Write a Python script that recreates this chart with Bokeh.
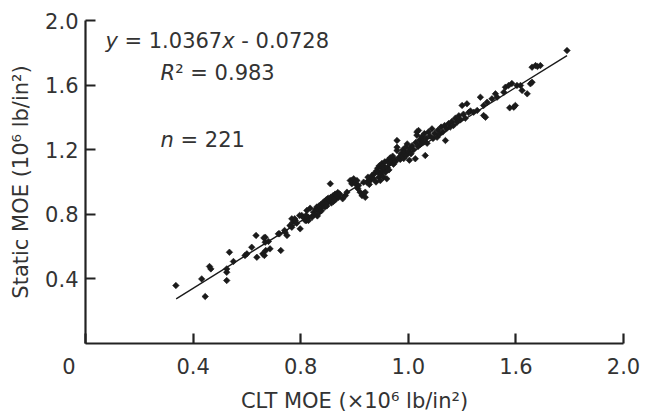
import math
from bokeh.plotting import figure
from bokeh.models import Label, FixedTicker, Range1d
from bokeh.embed import file_html
from bokeh.resources import INLINE

# ---- data ----
clt_moe = [
    0.336, 0.432, 0.445, 0.461, 0.466, 0.525, 0.525, 0.525, 0.535, 0.550,
    0.593, 0.600, 0.618, 0.634, 0.637, 0.659, 0.665, 0.668, 0.668, 0.670,
    0.680, 0.686, 0.663,
    0.717, 0.721, 0.726, 0.740, 0.742, 0.749, 0.760, 0.767, 0.767, 0.771,
    0.778, 0.780, 0.785, 0.796, 0.798, 0.804, 0.810, 0.817, 0.820, 0.822,
    0.823, 0.828, 0.829, 0.835, 0.842, 0.848,
    0.852, 0.855, 0.860, 0.862, 0.865, 0.868, 0.870, 0.875, 0.877, 0.880,
    0.882, 0.886, 0.888, 0.890, 0.892, 0.895, 0.897, 0.900, 0.902, 0.907,
    0.910, 0.912, 0.914, 0.917, 0.920, 0.922, 0.925, 0.928, 0.930, 0.934,
    0.938, 0.941, 0.945, 0.956, 0.966, 0.972,
    0.984, 0.990, 0.990, 0.997, 1.003, 1.009, 1.012, 1.015, 1.021, 1.028,
    1.034, 1.034, 1.040, 1.040, 1.046, 1.050, 1.055, 1.059, 1.065, 1.071,
    1.075, 1.080, 1.083, 1.090, 1.096,
    1.086, 1.088, 1.092, 1.098, 1.100, 1.102, 1.104, 1.107, 1.108, 1.110,
    1.113, 1.115, 1.120, 1.122, 1.125, 1.128, 1.130, 1.133, 1.139, 1.142,
    1.145, 1.148, 1.152, 1.158, 1.158, 1.158, 1.164,
    1.170, 1.173, 1.177, 1.180, 1.183, 1.186, 1.190, 1.193, 1.196, 1.200,
    1.204, 1.207, 1.210, 1.214, 1.220, 1.226, 1.228, 1.232, 1.232, 1.236,
    1.238, 1.242, 1.246, 1.250, 1.255, 1.260, 1.263, 1.266, 1.270, 1.275,
    1.280, 1.288,
    1.292, 1.298, 1.307, 1.310, 1.316, 1.322, 1.328, 1.335, 1.338, 1.342,
    1.350, 1.356, 1.362, 1.368, 1.375, 1.381, 1.388, 1.394, 1.400, 1.405,
    1.412, 1.418, 1.424, 1.431, 1.443, 1.456,
    1.468, 1.480, 1.480, 1.487, 1.493, 1.511, 1.524, 1.530, 1.555, 1.561,
    1.573, 1.577, 1.585, 1.592, 1.598, 1.604, 1.617, 1.623, 1.642, 1.654,
    1.660, 1.660, 1.673, 1.680, 1.691, 1.790,
]
static_moe = [
    0.359, 0.400, 0.291, 0.477, 0.462, 0.462, 0.441, 0.390, 0.565, 0.508,
    0.545, 0.555, 0.596, 0.669, 0.534, 0.555, 0.545, 0.627, 0.658, 0.576,
    0.632, 0.586, 0.654,
    0.679, 0.679, 0.576, 0.700, 0.689, 0.669, 0.730, 0.772, 0.720, 0.751,
    0.772, 0.762, 0.745, 0.793, 0.710, 0.793, 0.780, 0.762, 0.793, 0.762,
    0.824, 0.782, 0.762, 0.838, 0.782, 0.813,
    0.800, 0.830, 0.845, 0.790, 0.828, 0.852, 0.812, 0.860, 0.822, 0.848,
    0.870, 0.855, 0.880, 0.845, 0.866, 0.890, 0.852, 0.875, 0.900, 0.885,
    0.989, 0.905, 0.870, 0.893, 0.915, 0.880, 0.900, 0.925, 0.892, 0.912,
    0.935, 0.905, 0.925, 0.896, 0.916, 0.937,
    1.009, 0.989, 1.009, 1.020, 0.989, 1.009, 0.960, 0.978, 0.937, 0.916,
    0.999, 0.927, 0.937, 0.905, 0.999, 1.030, 0.985, 1.009, 1.040, 1.020,
    1.055, 1.000, 1.070, 1.030, 1.009,
    1.085, 1.060, 1.100, 1.050, 1.090, 1.115, 1.070, 1.100, 1.030, 1.085,
    1.125, 1.060, 1.020, 1.090, 1.135, 1.075, 1.115, 1.150, 1.130, 1.160,
    1.110, 1.140, 1.125, 1.195, 1.215, 1.257, 1.150,
    1.140, 1.175, 1.160, 1.200, 1.145, 1.185, 1.215, 1.165, 1.236, 1.190,
    1.135, 1.210, 1.175, 1.225, 1.200, 1.144, 1.245, 1.290, 1.310, 1.220,
    1.319, 1.260, 1.235, 1.280, 1.250, 1.300, 1.164, 1.270, 1.240, 1.310,
    1.285, 1.329,
    1.270, 1.300, 1.277, 1.320, 1.295, 1.340, 1.310, 1.350, 1.257, 1.330,
    1.362, 1.340, 1.375, 1.350, 1.395, 1.370, 1.410, 1.385, 1.474, 1.420,
    1.395, 1.484, 1.430, 1.440, 1.432, 1.443,
    1.525, 1.474, 1.412, 1.401, 1.494, 1.515, 1.546, 1.525, 1.556, 1.587,
    1.598, 1.459, 1.610, 1.463, 1.474, 1.598, 1.598, 1.567, 1.546, 1.608,
    1.711, 1.618, 1.721, 1.715, 1.721, 1.814,
]
slope = 1.0367
intercept = -0.0728
fit_x = [0.337, 1.79]
fit_y = [slope * v + intercept for v in fit_x]

NB = "\u00a0"
x_ticks = [0, 0.4, 0.8, 1.2, 1.6, 2.0]
x_tick_labels = {0: "0" + NB * 5, 0.4: "0.4", 0.8: "0.8", 1.2: "1.0", 1.6: "1.6", 2.0: "2.0"}
y_ticks = [0.4, 0.8, 1.2, 1.6, 2.0]
y_tick_labels = {0.4: "0.4", 0.8: "0.8", 1.2: "1.2", 1.6: "1.6", 2.0: "2.0"}

FONT = "DejaVu Sans"
TXT = "#333333"

p = figure(width=643, height=415, output_backend="svg", toolbar_location=None,
           x_range=Range1d(0, 2.0), y_range=Range1d(0, 2.0),
           min_border_left=85, min_border_right=20, min_border_top=20,
           min_border_bottom=72)
p.outline_line_color = None
p.xgrid.visible = False
p.ygrid.visible = False
p.background_fill_color = "white"

for ax in (p.xaxis[0], p.yaxis[0]):
    ax.axis_line_width = 2.2
    ax.axis_line_color = "#222222"
    ax.major_tick_line_width = 2.2
    ax.major_tick_line_color = "#222222"
    ax.major_tick_in = 10
    ax.major_tick_out = 0
    ax.minor_tick_line_color = None
    ax.major_label_text_font = FONT
    ax.major_label_text_font_size = "21px"
    ax.major_label_text_color = TXT
    ax.axis_label_text_font = FONT
    ax.axis_label_text_font_size = "21px"
    ax.axis_label_text_font_style = "normal"
    ax.axis_label_text_color = TXT

p.xaxis.ticker = FixedTicker(ticks=x_ticks)
p.xaxis.major_label_overrides = x_tick_labels
p.yaxis.ticker = FixedTicker(ticks=y_ticks)
p.yaxis.major_label_overrides = y_tick_labels
p.xaxis.major_label_standoff = 11
p.yaxis.major_label_standoff = 7
p.xaxis.axis_label = "CLT MOE (×10⁶ lb/in²)"
p.yaxis.axis_label = "Static MOE (10⁶ lb/in²)"
p.xaxis.axis_label_standoff = 7
p.yaxis.axis_label_standoff = 9

p.line(fit_x, fit_y, line_color="#1a1a1a", line_width=1.4)
p.scatter(clt_moe, static_moe, marker="square", angle=math.pi / 4, size=4.6,
          fill_color="#1a1a1a", line_color="#1a1a1a", line_width=0.6)

def seg(x, y, dx, text, italic=False):
    p.add_layout(Label(x=x, y=y, x_offset=dx, text=text, text_font=FONT,
                       text_font_size="21px", text_color=TXT,
                       text_font_style="italic" if italic else "normal",
                       text_align="left", text_baseline="alphabetic"))

# equation
ex, ey = 0.074, 1.876
seg(ex, ey, 0, "y", True)
seg(ex, ey, 12.4, NB + "=" + NB + "1.0367")
seg(ex, ey, 116.8, "x", True)
seg(ex, ey, 129.2, NB + "-" + NB + "0.0728")
# R^2
rx, ry = 0.279, 1.672
seg(rx, ry, 0, "R", True)
seg(rx, ry, 14.7, "²" + NB + "=" + NB + "0.983")
# n
nx, ny = 0.279, 1.257
seg(nx, ny, 0, "n", True)
seg(nx, ny, 13.3, NB + "=" + NB + "221")

open("out.html", "w").write(file_html(p, INLINE))
